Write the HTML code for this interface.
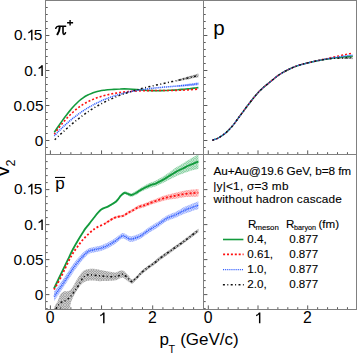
<!DOCTYPE html>
<html><head><meta charset="utf-8"><style>
html,body{margin:0;padding:0;background:#fff;}
body{width:357px;height:353px;overflow:hidden;position:relative;font-family:"Liberation Sans",sans-serif;}
</style></head><body>
<svg width="357" height="353" viewBox="0 0 357 353" style="position:absolute;left:0;top:0">
<defs>
<pattern id="hk" width="2.50" height="2.50" patternUnits="userSpaceOnUse"><circle cx="1.25" cy="1.25" r="0.85" fill="none" stroke="#000" stroke-width="0.55"/></pattern>
<pattern id="hg" width="2.50" height="2.50" patternUnits="userSpaceOnUse"><circle cx="1.25" cy="1.25" r="0.85" fill="none" stroke="#009a35" stroke-width="0.55"/></pattern>
<pattern id="hr" width="2.50" height="2.50" patternUnits="userSpaceOnUse"><circle cx="1.25" cy="1.25" r="0.85" fill="none" stroke="#ff1a1a" stroke-width="0.55"/></pattern>
<pattern id="hb" width="2.50" height="2.50" patternUnits="userSpaceOnUse"><circle cx="1.25" cy="1.25" r="0.85" fill="none" stroke="#1f4cff" stroke-width="0.55"/></pattern>
<clipPath id="cTL"><rect x="46" y="1" width="157" height="153"/></clipPath>
<clipPath id="cTR"><rect x="204" y="1" width="152" height="153"/></clipPath>
<clipPath id="cBL"><rect x="46" y="155" width="157" height="154"/></clipPath>
</defs>
<g clip-path="url(#cTL)">
<path d="M177.3,79.6 C178.0,79.4 180.1,78.9 181.5,78.5 C182.9,78.1 184.3,77.7 185.7,77.3 C187.1,76.9 188.5,76.5 189.9,76.1 C191.4,75.7 192.8,75.2 194.2,74.8 C195.6,74.4 197.7,73.8 198.4,73.5 L198.4,77.2 C197.7,77.3 195.6,77.8 194.2,78.1 C192.8,78.3 191.4,78.6 189.9,78.9 C188.5,79.2 187.1,79.4 185.7,79.7 C184.3,80.0 182.9,80.2 181.5,80.5 C180.1,80.8 178.0,81.1 177.3,81.3 Z" fill="url(#hk)" opacity="0.95"/>
<path d="M177.8,85.3 C178.5,85.2 180.6,84.9 181.9,84.7 C183.3,84.6 184.7,84.4 186.0,84.2 C187.4,84.0 188.8,83.8 190.2,83.6 C191.5,83.4 192.9,83.2 194.3,83.0 C195.7,82.7 197.7,82.4 198.4,82.3 L198.4,85.3 C197.7,85.4 195.7,85.6 194.3,85.7 C192.9,85.8 191.5,85.9 190.2,86.0 C188.8,86.1 187.4,86.2 186.0,86.2 C184.7,86.3 183.3,86.4 181.9,86.5 C180.6,86.5 178.5,86.6 177.8,86.7 Z" fill="url(#hb)" opacity="0.95"/>
<path d="M54.3,132.4 C55.0,131.4 57.0,128.3 58.4,126.3 C59.8,124.3 61.2,122.3 62.5,120.4 C63.9,118.5 65.3,116.6 66.7,114.8 C68.0,113.0 69.4,111.2 70.8,109.6 C72.1,108.0 73.5,106.4 74.9,105.0 C76.3,103.6 77.6,102.2 79.0,101.0 C80.4,99.8 81.7,98.8 83.1,97.8 C84.5,96.8 85.9,96.0 87.2,95.3 C88.6,94.5 90.0,93.9 91.4,93.4 C92.7,92.8 94.1,92.4 95.5,92.0 C96.8,91.6 98.2,91.3 99.6,91.0 C101.0,90.7 102.3,90.5 103.7,90.3 C105.1,90.1 106.5,90.0 107.8,89.8 C109.2,89.7 110.6,89.6 111.9,89.5 C113.3,89.4 114.7,89.3 116.1,89.2 C117.4,89.1 118.8,89.0 120.2,89.0 C121.5,88.9 122.9,88.9 124.3,88.9 C125.7,88.9 127.0,88.9 128.4,89.0 C129.8,89.1 131.2,89.2 132.5,89.3 C133.9,89.4 135.3,89.5 136.6,89.6 C138.0,89.7 139.4,89.9 140.8,90.0 C142.1,90.1 143.5,90.2 144.9,90.3 C146.2,90.4 147.6,90.5 149.0,90.5 C150.4,90.6 151.7,90.6 153.1,90.6 C154.5,90.7 155.9,90.7 157.2,90.7 C158.6,90.7 160.0,90.7 161.3,90.6 C162.7,90.6 164.1,90.6 165.5,90.5 C166.8,90.5 168.2,90.4 169.6,90.3 C171.0,90.2 172.3,90.2 173.7,90.1 C175.1,90.0 176.4,89.9 177.8,89.8 C179.2,89.6 180.6,89.5 181.9,89.4 C183.3,89.3 184.7,89.1 186.0,89.0 C187.4,88.9 188.8,88.7 190.2,88.6 C191.5,88.4 192.9,88.3 194.3,88.1 C195.7,87.9 197.7,87.7 198.4,87.6" fill="none" stroke="#129a3c" stroke-width="1.60"/>
<path d="M54.3,134.3 C55.0,133.3 57.0,130.3 58.4,128.4 C59.8,126.6 61.2,124.8 62.5,123.2 C63.9,121.5 65.3,119.9 66.7,118.4 C68.0,116.9 69.4,115.5 70.8,114.2 C72.1,112.9 73.5,111.6 74.9,110.5 C76.3,109.3 77.6,108.2 79.0,107.2 C80.4,106.2 81.7,105.3 83.1,104.4 C84.5,103.6 85.9,102.8 87.2,102.0 C88.6,101.3 90.0,100.6 91.4,100.0 C92.7,99.4 94.1,98.8 95.5,98.3 C96.8,97.8 98.2,97.3 99.6,96.9 C101.0,96.5 102.3,96.1 103.7,95.7 C105.1,95.3 106.5,95.0 107.8,94.7 C109.2,94.4 110.6,94.1 111.9,93.8 C113.3,93.6 114.7,93.3 116.1,93.1 C117.4,92.9 118.8,92.7 120.2,92.5 C121.5,92.3 122.9,92.1 124.3,92.0 C125.7,91.8 127.0,91.7 128.4,91.6 C129.8,91.5 131.2,91.3 132.5,91.3 C133.9,91.2 135.3,91.1 136.6,91.0 C138.0,90.9 139.4,90.9 140.8,90.8 C142.1,90.8 143.5,90.7 144.9,90.7 C146.2,90.7 147.6,90.6 149.0,90.6 C150.4,90.6 151.7,90.6 153.1,90.6 C154.5,90.6 155.9,90.5 157.2,90.5 C158.6,90.5 160.0,90.5 161.3,90.5 C162.7,90.5 164.1,90.5 165.5,90.5 C166.8,90.5 168.2,90.5 169.6,90.5 C171.0,90.4 172.3,90.4 173.7,90.4 C175.1,90.4 176.4,90.4 177.8,90.3 C179.2,90.3 180.6,90.2 181.9,90.2 C183.3,90.1 184.7,90.1 186.0,90.0 C187.4,89.9 188.8,89.8 190.2,89.7 C191.5,89.6 192.9,89.5 194.3,89.4 C195.7,89.3 197.7,89.1 198.4,89.0" fill="none" stroke="#ff1010" stroke-width="1.60" stroke-dasharray="2,2"/>
<path d="M54.3,135.9 C55.0,135.2 57.0,132.9 58.4,131.5 C59.8,130.1 61.2,128.8 62.5,127.4 C63.9,126.1 65.3,124.9 66.7,123.6 C68.0,122.4 69.4,121.2 70.8,120.1 C72.1,118.9 73.5,117.8 74.9,116.8 C76.3,115.7 77.6,114.7 79.0,113.7 C80.4,112.7 81.7,111.8 83.1,110.9 C84.5,110.0 85.9,109.1 87.2,108.3 C88.6,107.4 90.0,106.6 91.4,105.9 C92.7,105.1 94.1,104.4 95.5,103.7 C96.8,103.0 98.2,102.3 99.6,101.7 C101.0,101.0 102.3,100.4 103.7,99.8 C105.1,99.3 106.5,98.7 107.8,98.2 C109.2,97.7 110.6,97.2 111.9,96.7 C113.3,96.2 114.7,95.8 116.1,95.3 C117.4,94.9 118.8,94.5 120.2,94.1 C121.5,93.7 122.9,93.4 124.3,93.0 C125.7,92.7 127.0,92.4 128.4,92.1 C129.8,91.8 131.2,91.5 132.5,91.2 C133.9,90.9 135.3,90.7 136.6,90.5 C138.0,90.2 139.4,90.0 140.8,89.8 C142.1,89.6 143.5,89.4 144.9,89.2 C146.2,89.0 147.6,88.8 149.0,88.7 C150.4,88.5 151.7,88.3 153.1,88.2 C154.5,88.0 155.9,87.9 157.2,87.8 C158.6,87.6 160.0,87.5 161.3,87.4 C162.7,87.2 164.1,87.1 165.5,87.0 C166.8,86.9 168.2,86.8 169.6,86.7 C171.0,86.5 172.3,86.4 173.7,86.3 C175.1,86.2 176.4,86.1 177.8,86.0 C179.2,85.9 180.6,85.7 181.9,85.6 C183.3,85.5 184.7,85.4 186.0,85.2 C187.4,85.1 188.8,84.9 190.2,84.8 C191.5,84.6 192.9,84.5 194.3,84.3 C195.7,84.2 197.7,83.9 198.4,83.8" fill="none" stroke="#2f5cff" stroke-width="1.50" stroke-dasharray="1.1,0.8"/>
<path d="M54.7,139.7 C55.4,139.1 57.5,137.0 58.9,135.7 C60.3,134.4 61.7,133.1 63.2,131.8 C64.6,130.5 66.0,129.2 67.4,128.0 C68.8,126.7 70.2,125.5 71.6,124.3 C73.0,123.1 74.4,122.0 75.8,120.8 C77.2,119.7 78.7,118.6 80.1,117.5 C81.5,116.5 82.9,115.4 84.3,114.4 C85.7,113.4 87.1,112.4 88.5,111.5 C89.9,110.5 91.3,109.6 92.7,108.7 C94.1,107.9 95.6,107.0 97.0,106.2 C98.4,105.4 99.8,104.6 101.2,103.8 C102.6,103.1 104.0,102.4 105.4,101.7 C106.8,101.0 108.2,100.3 109.6,99.6 C111.1,99.0 112.5,98.4 113.9,97.8 C115.3,97.2 116.7,96.6 118.1,96.0 C119.5,95.5 120.9,95.0 122.3,94.4 C123.7,93.9 125.1,93.4 126.5,93.0 C128.0,92.5 129.4,92.1 130.8,91.6 C132.2,91.2 133.6,90.8 135.0,90.4 C136.4,90.0 137.8,89.6 139.2,89.2 C140.6,88.8 142.0,88.4 143.5,88.1 C144.9,87.7 146.3,87.4 147.7,87.0 C149.1,86.7 150.5,86.4 151.9,86.1 C153.3,85.7 154.7,85.4 156.1,85.1 C157.5,84.8 159.0,84.5 160.4,84.2 C161.8,83.9 163.2,83.6 164.6,83.3 C166.0,83.0 167.4,82.6 168.8,82.3 C170.2,82.0 171.6,81.7 173.0,81.4 C174.5,81.1 175.9,80.8 177.3,80.5 C178.7,80.1 180.1,79.8 181.5,79.5 C182.9,79.2 184.3,78.8 185.7,78.5 C187.1,78.2 188.5,77.8 189.9,77.5 C191.4,77.1 192.8,76.8 194.2,76.4 C195.6,76.1 197.7,75.5 198.4,75.4" fill="none" stroke="#111" stroke-width="1.50" stroke-dasharray="2,2.4,1,2.4"/>
</g>
<g clip-path="url(#cTR)">
<path d="M316.0,60.8 C318.6,60.4 326.6,58.9 331.9,58.2 C337.2,57.5 344.4,56.8 347.9,56.4 C351.4,56.0 351.9,56.1 352.7,56.0 L352.7,59.2 C351.9,59.2 351.4,59.0 347.9,59.0 C344.4,59.0 337.2,58.6 331.9,59.0 C326.6,59.4 318.6,60.8 316.0,61.2 Z" fill="url(#hk)" opacity="0.95"/>
<path d="M212.4,140.3 C213.5,139.8 216.9,138.8 219.2,137.5 C221.5,136.2 224.4,134.0 226.2,132.5 C228.0,131.0 228.8,129.9 230.0,128.6 C231.2,127.3 231.7,127.0 233.3,124.9 C235.0,122.8 237.2,119.6 239.9,115.9 C242.7,112.2 246.5,106.9 249.8,102.7 C253.1,98.5 256.5,94.2 259.8,90.8 C263.1,87.4 266.4,85.0 269.7,82.3 C273.0,79.6 276.3,76.7 279.6,74.5 C282.9,72.3 286.2,70.6 289.5,69.0 C292.8,67.4 295.0,66.4 299.4,65.1 C303.8,63.8 310.6,62.1 316.0,61.0 C321.4,59.9 326.6,59.0 331.9,58.3 C337.2,57.5 344.4,56.9 347.9,56.5 C351.4,56.1 351.9,56.2 352.7,56.1" fill="none" stroke="#129a3c" stroke-width="1.40"/>
<path d="M212.4,140.3 C213.5,139.8 216.9,138.8 219.2,137.5 C221.5,136.2 224.4,134.0 226.2,132.5 C228.0,131.0 228.8,129.9 230.0,128.6 C231.2,127.3 231.7,127.0 233.3,124.9 C235.0,122.8 237.2,119.6 239.9,115.9 C242.7,112.2 246.5,106.9 249.8,102.7 C253.1,98.5 256.5,94.2 259.8,90.8 C263.1,87.4 266.4,85.0 269.7,82.3 C273.0,79.6 276.3,76.7 279.6,74.5 C282.9,72.3 286.2,70.6 289.5,69.0 C292.8,67.4 295.0,66.4 299.4,65.1 C303.8,63.8 310.6,62.3 316.0,61.0 C321.4,59.7 326.6,58.6 331.9,57.4 C337.2,56.2 344.4,54.7 347.9,54.0 C351.4,53.3 351.9,53.3 352.7,53.2" fill="none" stroke="#ff1010" stroke-width="1.40" stroke-dasharray="2,2"/>
<path d="M212.4,140.3 C213.5,139.8 216.9,138.8 219.2,137.5 C221.5,136.2 224.4,134.0 226.2,132.5 C228.0,131.0 228.8,129.9 230.0,128.6 C231.2,127.3 231.7,127.0 233.3,124.9 C235.0,122.8 237.2,119.6 239.9,115.9 C242.7,112.2 246.5,106.9 249.8,102.7 C253.1,98.5 256.5,94.2 259.8,90.8 C263.1,87.4 266.4,85.0 269.7,82.3 C273.0,79.6 276.3,76.7 279.6,74.5 C282.9,72.3 286.2,70.6 289.5,69.0 C292.8,67.4 295.0,66.4 299.4,65.1 C303.8,63.8 310.6,62.2 316.0,61.0 C321.4,59.8 326.6,58.9 331.9,58.0 C337.2,57.1 344.4,56.1 347.9,55.6 C351.4,55.1 351.9,55.3 352.7,55.2" fill="none" stroke="#2f5cff" stroke-width="1.40" stroke-dasharray="1.1,0.8"/>
<path d="M212.4,140.3 C213.5,139.8 216.9,138.8 219.2,137.5 C221.5,136.2 224.4,134.0 226.2,132.5 C228.0,131.0 228.8,129.9 230.0,128.6 C231.2,127.3 231.7,127.0 233.3,124.9 C235.0,122.8 237.2,119.6 239.9,115.9 C242.7,112.2 246.5,106.9 249.8,102.7 C253.1,98.5 256.5,94.2 259.8,90.8 C263.1,87.4 266.4,85.0 269.7,82.3 C273.0,79.6 276.3,76.7 279.6,74.5 C282.9,72.3 286.2,70.6 289.5,69.0 C292.8,67.4 295.0,66.4 299.4,65.1 C303.8,63.8 310.6,62.1 316.0,61.0 C321.4,59.9 326.6,59.1 331.9,58.6 C337.2,58.1 344.4,57.9 347.9,57.7 C351.4,57.5 351.9,57.6 352.7,57.6" fill="none" stroke="#111" stroke-width="1.40" stroke-dasharray="2,2.4,1,2.4"/>
</g>
<g clip-path="url(#cBL)">
<path d="M107.8,205.8 C109.0,205.1 113.0,202.8 114.7,201.5 C116.4,200.3 117.0,199.3 118.0,198.1 C119.0,196.9 119.7,195.5 120.8,194.4 C121.9,193.3 123.2,191.8 124.4,191.4 C125.6,191.1 126.7,191.9 127.9,192.2 C129.1,192.5 130.1,193.5 131.5,193.2 C132.9,193.0 134.6,191.8 136.4,190.7 C138.2,189.6 140.2,188.0 142.1,186.9 C144.0,185.7 145.9,184.7 147.8,183.8 C149.7,182.9 152.3,181.9 153.5,181.5 C154.7,181.0 153.6,181.7 155.0,181.0 C156.4,180.3 159.6,178.7 161.9,177.3 C164.2,175.9 166.4,174.3 168.7,172.7 C171.0,171.1 173.3,169.3 175.6,167.8 C177.9,166.3 180.1,165.1 182.4,163.7 C184.7,162.2 186.8,160.8 189.3,159.4 C191.8,157.9 196.0,155.6 197.5,154.8 C199.0,153.9 198.2,154.3 198.4,154.2 L198.4,168.8 C198.2,168.8 199.0,168.6 197.5,169.0 C196.0,169.4 191.8,170.4 189.3,171.2 C186.8,172.0 184.7,172.9 182.4,173.7 C180.1,174.6 177.9,175.3 175.6,176.4 C173.3,177.4 171.0,178.7 168.7,179.9 C166.4,181.1 164.2,182.4 161.9,183.5 C159.6,184.6 156.4,186.0 155.0,186.6 C153.6,187.2 154.7,186.6 153.5,186.9 C152.3,187.3 149.7,188.1 147.8,188.8 C145.9,189.5 144.0,190.4 142.1,191.3 C140.2,192.3 138.2,193.8 136.4,194.7 C134.6,195.6 132.9,196.7 131.5,196.8 C130.1,196.9 129.1,195.8 127.9,195.4 C126.7,195.0 125.6,194.1 124.4,194.4 C123.2,194.6 121.9,196.0 120.8,197.0 C119.7,198.0 119.0,199.4 118.0,200.5 C117.0,201.6 116.4,202.5 114.7,203.7 C113.0,204.8 109.0,206.7 107.8,207.4 Z" fill="url(#hg)" opacity="0.95"/>
<path d="M104.7,222.6 C105.8,221.9 109.3,219.6 111.1,218.5 C112.9,217.4 114.1,216.9 115.6,216.3 C117.1,215.7 118.8,215.4 120.1,215.1 C121.4,214.8 122.1,215.2 123.4,214.5 C124.7,213.9 126.4,212.4 127.9,211.5 C129.4,210.6 130.7,210.1 132.4,209.1 C134.1,208.1 136.1,206.5 138.0,205.6 C139.9,204.8 141.7,204.5 143.6,203.8 C145.5,203.1 146.7,202.4 149.2,201.4 C151.7,200.4 155.5,198.8 158.5,197.7 C161.5,196.6 164.2,195.6 167.0,194.8 C169.8,193.9 172.7,193.4 175.5,192.7 C178.3,192.1 181.2,191.2 184.0,190.7 C186.8,190.2 190.0,189.9 192.4,189.6 C194.8,189.3 197.4,189.0 198.4,188.9 L198.4,196.5 C197.4,196.6 194.8,196.7 192.4,196.8 C190.0,196.9 186.8,197.0 184.0,197.3 C181.2,197.6 178.3,198.2 175.5,198.7 C172.7,199.1 169.8,199.4 167.0,200.0 C164.2,200.6 161.5,201.4 158.5,202.3 C155.5,203.2 151.7,204.5 149.2,205.4 C146.7,206.2 145.5,206.8 143.6,207.4 C141.7,208.0 139.9,208.2 138.0,209.0 C136.1,209.7 134.1,211.2 132.4,212.1 C130.7,213.0 129.4,213.5 127.9,214.3 C126.4,215.1 124.7,216.5 123.4,217.1 C122.1,217.6 121.4,217.2 120.1,217.5 C118.8,217.7 117.1,218.0 115.6,218.5 C114.1,219.0 112.9,219.6 111.1,220.7 C109.3,221.8 105.8,224.1 104.7,224.8 Z" fill="url(#hr)" opacity="0.95"/>
<path d="M54.0,291.7 C55.0,290.4 57.8,286.8 60.0,283.6 C62.2,280.5 65.1,276.3 67.4,272.8 C69.7,269.3 71.8,265.8 74.0,262.8 C76.2,259.8 78.6,257.2 80.9,254.9 C83.2,252.5 85.8,250.1 88.0,248.8 C90.2,247.5 91.8,247.6 94.0,247.0 C96.2,246.4 98.6,246.1 100.9,245.4 C103.2,244.7 105.5,243.7 107.8,242.6 C110.1,241.5 112.7,239.9 114.7,238.6 C116.7,237.3 118.4,235.6 119.7,234.7 C121.0,233.8 121.7,233.1 122.7,233.0 C123.7,232.9 124.5,233.5 125.6,234.0 C126.6,234.5 127.9,235.6 129.0,236.0 C130.1,236.4 130.8,236.4 132.0,236.2 C133.2,236.0 134.9,235.4 136.5,234.8 C138.1,234.2 139.5,233.8 141.6,232.5 C143.7,231.2 146.3,229.0 149.0,227.2 C151.7,225.4 154.9,223.7 157.9,221.8 C160.9,219.8 163.9,217.2 166.9,215.5 C169.9,213.8 172.8,213.1 175.8,211.7 C178.8,210.2 182.3,208.1 184.8,206.8 C187.3,205.6 188.9,205.0 191.0,204.2 C193.1,203.3 196.1,202.2 197.3,201.7 C198.5,201.2 198.2,201.4 198.4,201.3 L198.4,209.1 C198.2,209.2 198.5,209.1 197.3,209.5 C196.1,209.9 193.1,210.7 191.0,211.4 C188.9,212.1 187.3,212.5 184.8,213.6 C182.3,214.6 178.8,216.5 175.8,217.7 C172.8,219.0 169.9,219.5 166.9,221.1 C163.9,222.7 160.9,225.5 157.9,227.4 C154.9,229.3 151.7,231.0 149.0,232.8 C146.3,234.6 143.7,236.8 141.6,238.1 C139.5,239.4 138.1,239.8 136.5,240.4 C134.9,241.0 133.2,241.6 132.0,241.8 C130.8,242.0 130.1,242.0 129.0,241.6 C127.9,241.2 126.6,240.1 125.6,239.6 C124.5,239.1 123.7,238.5 122.7,238.6 C121.7,238.7 121.0,239.4 119.7,240.3 C118.4,241.2 116.7,242.9 114.7,244.2 C112.7,245.5 110.1,247.1 107.8,248.2 C105.5,249.3 103.2,250.3 100.9,251.0 C98.6,251.7 96.2,252.0 94.0,252.6 C91.8,253.2 90.2,252.8 88.0,254.4 C85.8,256.0 83.2,259.3 80.9,262.1 C78.6,264.9 76.2,268.0 74.0,271.2 C71.8,274.4 69.7,277.7 67.4,281.2 C65.1,284.7 62.2,289.0 60.0,292.4 C57.8,295.7 55.0,299.8 54.0,301.3 Z" fill="url(#hb)" opacity="0.95"/>
<path d="M53.5,309.5 C53.8,308.7 54.8,305.8 55.5,304.5 C56.2,303.2 56.8,303.1 57.6,301.5 C58.4,299.9 59.1,296.5 60.1,294.8 C61.1,293.1 62.6,292.0 63.9,291.4 C65.2,290.8 66.5,291.7 67.7,291.3 C69.0,290.9 70.2,290.3 71.4,288.9 C72.7,287.4 73.9,284.7 75.2,282.6 C76.5,280.5 77.7,278.2 79.0,276.3 C80.3,274.4 81.3,272.6 82.8,271.4 C84.3,270.2 85.8,269.7 87.8,269.3 C89.8,268.9 92.6,268.8 95.0,268.9 C97.4,269.0 99.5,269.7 102.0,270.2 C104.5,270.7 107.7,271.4 110.0,271.8 C112.3,272.2 114.3,272.6 116.0,272.4 C117.7,272.2 118.8,271.1 120.0,270.8 C121.2,270.5 122.0,270.2 123.0,270.6 C124.0,271.0 125.2,272.2 126.3,273.2 C127.4,274.2 129.0,276.0 129.5,276.6 L129.5,282.6 C129.0,282.2 127.4,280.8 126.3,280.0 C125.2,279.2 124.0,278.1 123.0,277.8 C122.0,277.5 121.2,277.8 120.0,278.2 C118.8,278.6 117.7,279.8 116.0,280.2 C114.3,280.6 112.7,280.6 110.0,280.8 C107.3,281.0 103.1,281.2 100.0,281.2 C96.9,281.2 94.0,280.6 91.6,280.6 C89.1,280.7 87.2,280.7 85.3,281.5 C83.4,282.3 82.0,283.6 80.3,285.6 C78.6,287.6 76.7,290.7 75.2,293.3 C73.7,295.9 72.4,298.5 71.4,301.0 C70.5,303.5 70.5,306.8 69.5,308.5 C68.5,310.2 67.3,310.6 65.1,311.0 C62.8,311.4 57.5,311.0 56.0,311.0 Z" fill="url(#hk)" opacity="0.78"/>
<path d="M129.5,277.4 C129.9,277.7 130.9,279.4 131.9,279.4 C132.9,279.4 134.2,278.1 135.3,277.2 C136.4,276.3 137.3,275.2 138.6,273.9 C139.9,272.6 140.3,271.6 143.1,269.4 C145.9,267.1 152.5,262.5 155.3,260.4 C158.1,258.3 157.1,258.8 160.0,256.6 C162.9,254.4 168.6,250.4 172.8,247.4 C177.1,244.4 181.5,241.3 185.5,238.4 C189.5,235.4 194.8,231.3 197.0,229.7 C199.2,228.1 198.2,228.8 198.4,228.6 L198.4,232.2 C198.2,232.4 199.2,231.7 197.0,233.3 C194.8,234.9 189.5,239.1 185.5,242.0 C181.5,244.9 177.1,248.0 172.8,251.0 C168.6,254.0 162.9,258.0 160.0,260.2 C157.1,262.4 158.1,261.9 155.3,264.0 C152.5,266.1 145.9,270.8 143.1,273.0 C140.3,275.2 139.9,276.2 138.6,277.5 C137.3,278.8 136.4,279.8 135.3,280.8 C134.2,281.9 132.9,283.6 131.9,283.8 C130.9,284.0 129.9,282.1 129.5,281.8 Z" fill="url(#hk)" opacity="0.95"/>
<path d="M54.0,288.5 C55.0,286.4 57.7,280.9 60.0,276.0 C62.3,271.1 65.9,263.8 68.0,259.4 C70.1,255.0 71.1,252.7 72.8,249.5 C74.5,246.3 76.2,243.4 77.9,240.5 C79.6,237.6 81.7,234.2 83.0,232.2 C84.3,230.2 84.4,229.8 85.5,228.4 C86.6,227.0 88.0,225.4 89.4,223.6 C90.8,221.8 92.0,220.0 93.9,217.7 C95.8,215.4 98.6,211.7 100.9,209.8 C103.2,208.0 105.5,207.8 107.8,206.6 C110.1,205.4 113.0,203.8 114.7,202.6 C116.4,201.4 117.0,200.5 118.0,199.3 C119.0,198.2 119.7,196.8 120.8,195.7 C121.9,194.6 123.2,193.2 124.4,192.9 C125.6,192.6 126.7,193.5 127.9,193.8 C129.1,194.2 130.1,195.2 131.5,195.0 C132.9,194.8 134.6,193.7 136.4,192.7 C138.2,191.7 140.2,190.2 142.1,189.1 C144.0,188.0 145.9,187.1 147.8,186.3 C149.7,185.5 152.3,184.6 153.5,184.2 C154.7,183.8 153.6,184.4 155.0,183.8 C156.4,183.2 159.6,181.7 161.9,180.4 C164.2,179.2 166.4,177.7 168.7,176.3 C171.0,174.9 173.3,173.4 175.6,172.1 C177.9,170.8 180.1,169.8 182.4,168.7 C184.7,167.6 186.8,166.4 189.3,165.3 C191.8,164.2 196.0,162.5 197.5,161.9 C199.0,161.3 198.2,161.6 198.4,161.5" fill="none" stroke="#129a3c" stroke-width="1.80"/>
<path d="M54.0,289.5 C55.0,287.8 57.3,284.2 60.0,279.0 C62.7,273.8 67.2,263.8 70.0,258.5 C72.8,253.2 74.4,251.0 76.9,247.5 C79.4,244.0 81.8,240.7 84.8,237.6 C87.8,234.5 91.5,231.0 94.8,228.7 C98.1,226.4 102.0,225.2 104.7,223.7 C107.4,222.2 109.3,220.6 111.1,219.6 C112.9,218.6 114.1,217.9 115.6,217.4 C117.1,216.9 118.8,216.6 120.1,216.3 C121.4,216.0 122.1,216.4 123.4,215.8 C124.7,215.2 126.4,213.8 127.9,212.9 C129.4,212.0 130.7,211.5 132.4,210.6 C134.1,209.7 136.1,208.1 138.0,207.3 C139.9,206.5 141.7,206.2 143.6,205.6 C145.5,204.9 146.7,204.3 149.2,203.4 C151.7,202.5 155.5,201.0 158.5,200.0 C161.5,199.0 164.2,198.1 167.0,197.4 C169.8,196.7 172.7,196.3 175.5,195.7 C178.3,195.1 181.2,194.4 184.0,194.0 C186.8,193.6 190.0,193.4 192.4,193.2 C194.8,193.0 197.4,192.8 198.4,192.7" fill="none" stroke="#ff1010" stroke-width="1.80" stroke-dasharray="2,2"/>
<path d="M54.0,296.5 C55.0,295.1 57.8,291.2 60.0,288.0 C62.2,284.8 65.1,280.5 67.4,277.0 C69.7,273.5 71.8,270.1 74.0,267.0 C76.2,263.9 78.6,261.1 80.9,258.5 C83.2,255.9 85.8,253.0 88.0,251.6 C90.2,250.2 91.8,250.4 94.0,249.8 C96.2,249.2 98.6,248.9 100.9,248.2 C103.2,247.5 105.5,246.5 107.8,245.4 C110.1,244.3 112.7,242.7 114.7,241.4 C116.7,240.1 118.4,238.4 119.7,237.5 C121.0,236.6 121.7,235.9 122.7,235.8 C123.7,235.7 124.5,236.3 125.6,236.8 C126.6,237.3 127.9,238.4 129.0,238.8 C130.1,239.2 130.8,239.2 132.0,239.0 C133.2,238.8 134.9,238.2 136.5,237.6 C138.1,237.0 139.5,236.6 141.6,235.3 C143.7,234.0 146.3,231.8 149.0,230.0 C151.7,228.2 154.9,226.5 157.9,224.6 C160.9,222.7 163.9,220.0 166.9,218.3 C169.9,216.7 172.8,216.0 175.8,214.7 C178.8,213.3 182.3,211.3 184.8,210.2 C187.3,209.0 188.9,208.6 191.0,207.8 C193.1,207.0 196.1,206.0 197.3,205.6 C198.5,205.2 198.2,205.3 198.4,205.2" fill="none" stroke="#2f5cff" stroke-width="1.50" stroke-dasharray="1.1,0.8"/>
<path d="M55.9,308.9 C56.3,308.2 57.5,306.1 58.5,305.0 C59.5,303.9 60.5,302.8 61.8,302.0 C63.1,301.2 65.0,301.0 66.5,300.0 C68.0,299.0 69.4,297.7 70.7,296.2 C72.0,294.7 73.3,293.0 74.6,291.2 C75.9,289.4 77.2,287.6 78.5,285.5 C79.8,283.4 81.2,280.3 82.4,278.6 C83.7,276.9 84.9,276.1 86.0,275.5 C87.1,274.9 87.3,274.7 89.2,274.7 C91.1,274.7 94.9,275.2 97.6,275.5 C100.3,275.8 102.7,276.2 105.2,276.4 C107.7,276.6 110.7,276.7 112.7,276.7 C114.7,276.7 116.0,276.5 117.3,276.2 C118.6,275.9 119.8,275.1 120.7,274.8 C121.7,274.5 122.1,274.0 123.0,274.3 C123.9,274.6 125.2,275.7 126.3,276.6 C127.4,277.5 128.6,278.8 129.5,279.6 C130.4,280.4 130.9,281.7 131.9,281.6 C132.9,281.5 134.2,280.0 135.3,279.0 C136.4,278.0 137.3,277.0 138.6,275.7 C139.9,274.4 140.3,273.4 143.1,271.2 C145.9,268.9 152.5,264.3 155.3,262.2 C158.1,260.1 157.1,260.6 160.0,258.4 C162.9,256.2 168.6,252.2 172.8,249.2 C177.1,246.2 181.5,243.1 185.5,240.2 C189.5,237.2 194.8,233.1 197.0,231.5 C199.2,229.9 198.2,230.6 198.4,230.4" fill="none" stroke="#111" stroke-width="1.50" stroke-dasharray="2,2.4,1,2.4"/>
</g>
<g stroke="#808080" stroke-width="1.00" fill="none" shape-rendering="auto">
<rect x="45.5" y="0.5" width="311.0" height="309.0"/>
<line x1="203.5" y1="0.5" x2="203.5" y2="309.5"/>
<line x1="45.5" y1="154.5" x2="356.5" y2="154.5"/>
<line x1="46.0" y1="147.50" x2="47.7" y2="147.50" stroke="#5a5a5a"/>
<line x1="46.0" y1="140.50" x2="49.4" y2="140.50" stroke="#5a5a5a"/>
<line x1="46.0" y1="133.50" x2="47.7" y2="133.50" stroke="#5a5a5a"/>
<line x1="46.0" y1="126.50" x2="47.7" y2="126.50" stroke="#5a5a5a"/>
<line x1="46.0" y1="119.50" x2="47.7" y2="119.50" stroke="#5a5a5a"/>
<line x1="46.0" y1="112.50" x2="47.7" y2="112.50" stroke="#5a5a5a"/>
<line x1="46.0" y1="105.50" x2="49.4" y2="105.50" stroke="#5a5a5a"/>
<line x1="46.0" y1="98.50" x2="47.7" y2="98.50" stroke="#5a5a5a"/>
<line x1="46.0" y1="91.50" x2="47.7" y2="91.50" stroke="#5a5a5a"/>
<line x1="46.0" y1="84.50" x2="47.7" y2="84.50" stroke="#5a5a5a"/>
<line x1="46.0" y1="77.50" x2="47.7" y2="77.50" stroke="#5a5a5a"/>
<line x1="46.0" y1="70.50" x2="49.4" y2="70.50" stroke="#5a5a5a"/>
<line x1="46.0" y1="63.50" x2="47.7" y2="63.50" stroke="#5a5a5a"/>
<line x1="46.0" y1="56.50" x2="47.7" y2="56.50" stroke="#5a5a5a"/>
<line x1="46.0" y1="49.50" x2="47.7" y2="49.50" stroke="#5a5a5a"/>
<line x1="46.0" y1="42.50" x2="47.7" y2="42.50" stroke="#5a5a5a"/>
<line x1="46.0" y1="35.50" x2="49.4" y2="35.50" stroke="#5a5a5a"/>
<line x1="46.0" y1="28.50" x2="47.7" y2="28.50" stroke="#5a5a5a"/>
<line x1="46.0" y1="21.50" x2="47.7" y2="21.50" stroke="#5a5a5a"/>
<line x1="46.0" y1="14.50" x2="47.7" y2="14.50" stroke="#5a5a5a"/>
<line x1="46.0" y1="7.50" x2="47.7" y2="7.50" stroke="#5a5a5a"/>
<line x1="46.0" y1="308.60" x2="47.7" y2="308.60" stroke="#5a5a5a"/>
<line x1="46.0" y1="301.60" x2="47.7" y2="301.60" stroke="#5a5a5a"/>
<line x1="46.0" y1="294.60" x2="49.4" y2="294.60" stroke="#5a5a5a"/>
<line x1="46.0" y1="287.60" x2="47.7" y2="287.60" stroke="#5a5a5a"/>
<line x1="46.0" y1="280.60" x2="47.7" y2="280.60" stroke="#5a5a5a"/>
<line x1="46.0" y1="273.60" x2="47.7" y2="273.60" stroke="#5a5a5a"/>
<line x1="46.0" y1="266.60" x2="47.7" y2="266.60" stroke="#5a5a5a"/>
<line x1="46.0" y1="259.60" x2="49.4" y2="259.60" stroke="#5a5a5a"/>
<line x1="46.0" y1="252.60" x2="47.7" y2="252.60" stroke="#5a5a5a"/>
<line x1="46.0" y1="245.60" x2="47.7" y2="245.60" stroke="#5a5a5a"/>
<line x1="46.0" y1="238.60" x2="47.7" y2="238.60" stroke="#5a5a5a"/>
<line x1="46.0" y1="231.60" x2="47.7" y2="231.60" stroke="#5a5a5a"/>
<line x1="46.0" y1="224.60" x2="49.4" y2="224.60" stroke="#5a5a5a"/>
<line x1="46.0" y1="217.60" x2="47.7" y2="217.60" stroke="#5a5a5a"/>
<line x1="46.0" y1="210.60" x2="47.7" y2="210.60" stroke="#5a5a5a"/>
<line x1="46.0" y1="203.60" x2="47.7" y2="203.60" stroke="#5a5a5a"/>
<line x1="46.0" y1="196.60" x2="47.7" y2="196.60" stroke="#5a5a5a"/>
<line x1="46.0" y1="189.60" x2="49.4" y2="189.60" stroke="#5a5a5a"/>
<line x1="46.0" y1="182.60" x2="47.7" y2="182.60" stroke="#5a5a5a"/>
<line x1="46.0" y1="175.60" x2="47.7" y2="175.60" stroke="#5a5a5a"/>
<line x1="46.0" y1="168.60" x2="47.7" y2="168.60" stroke="#5a5a5a"/>
<line x1="46.0" y1="161.60" x2="47.7" y2="161.60" stroke="#5a5a5a"/>
<line x1="204.0" y1="147.50" x2="205.7" y2="147.50" stroke="#5a5a5a"/>
<line x1="204.0" y1="140.50" x2="207.4" y2="140.50" stroke="#5a5a5a"/>
<line x1="204.0" y1="133.50" x2="205.7" y2="133.50" stroke="#5a5a5a"/>
<line x1="204.0" y1="126.50" x2="205.7" y2="126.50" stroke="#5a5a5a"/>
<line x1="204.0" y1="119.50" x2="205.7" y2="119.50" stroke="#5a5a5a"/>
<line x1="204.0" y1="112.50" x2="205.7" y2="112.50" stroke="#5a5a5a"/>
<line x1="204.0" y1="105.50" x2="207.4" y2="105.50" stroke="#5a5a5a"/>
<line x1="204.0" y1="98.50" x2="205.7" y2="98.50" stroke="#5a5a5a"/>
<line x1="204.0" y1="91.50" x2="205.7" y2="91.50" stroke="#5a5a5a"/>
<line x1="204.0" y1="84.50" x2="205.7" y2="84.50" stroke="#5a5a5a"/>
<line x1="204.0" y1="77.50" x2="205.7" y2="77.50" stroke="#5a5a5a"/>
<line x1="204.0" y1="70.50" x2="207.4" y2="70.50" stroke="#5a5a5a"/>
<line x1="204.0" y1="63.50" x2="205.7" y2="63.50" stroke="#5a5a5a"/>
<line x1="204.0" y1="56.50" x2="205.7" y2="56.50" stroke="#5a5a5a"/>
<line x1="204.0" y1="49.50" x2="205.7" y2="49.50" stroke="#5a5a5a"/>
<line x1="204.0" y1="42.50" x2="205.7" y2="42.50" stroke="#5a5a5a"/>
<line x1="204.0" y1="35.50" x2="207.4" y2="35.50" stroke="#5a5a5a"/>
<line x1="204.0" y1="28.50" x2="205.7" y2="28.50" stroke="#5a5a5a"/>
<line x1="204.0" y1="21.50" x2="205.7" y2="21.50" stroke="#5a5a5a"/>
<line x1="204.0" y1="14.50" x2="205.7" y2="14.50" stroke="#5a5a5a"/>
<line x1="204.0" y1="7.50" x2="205.7" y2="7.50" stroke="#5a5a5a"/>
<line x1="204.0" y1="308.60" x2="205.7" y2="308.60" stroke="#5a5a5a"/>
<line x1="204.0" y1="301.60" x2="205.7" y2="301.60" stroke="#5a5a5a"/>
<line x1="204.0" y1="294.60" x2="207.4" y2="294.60" stroke="#5a5a5a"/>
<line x1="204.0" y1="287.60" x2="205.7" y2="287.60" stroke="#5a5a5a"/>
<line x1="204.0" y1="280.60" x2="205.7" y2="280.60" stroke="#5a5a5a"/>
<line x1="204.0" y1="273.60" x2="205.7" y2="273.60" stroke="#5a5a5a"/>
<line x1="204.0" y1="266.60" x2="205.7" y2="266.60" stroke="#5a5a5a"/>
<line x1="204.0" y1="259.60" x2="207.4" y2="259.60" stroke="#5a5a5a"/>
<line x1="204.0" y1="252.60" x2="205.7" y2="252.60" stroke="#5a5a5a"/>
<line x1="204.0" y1="245.60" x2="205.7" y2="245.60" stroke="#5a5a5a"/>
<line x1="204.0" y1="238.60" x2="205.7" y2="238.60" stroke="#5a5a5a"/>
<line x1="204.0" y1="231.60" x2="205.7" y2="231.60" stroke="#5a5a5a"/>
<line x1="204.0" y1="224.60" x2="207.4" y2="224.60" stroke="#5a5a5a"/>
<line x1="204.0" y1="217.60" x2="205.7" y2="217.60" stroke="#5a5a5a"/>
<line x1="204.0" y1="210.60" x2="205.7" y2="210.60" stroke="#5a5a5a"/>
<line x1="204.0" y1="203.60" x2="205.7" y2="203.60" stroke="#5a5a5a"/>
<line x1="204.0" y1="196.60" x2="205.7" y2="196.60" stroke="#5a5a5a"/>
<line x1="204.0" y1="189.60" x2="207.4" y2="189.60" stroke="#5a5a5a"/>
<line x1="204.0" y1="182.60" x2="205.7" y2="182.60" stroke="#5a5a5a"/>
<line x1="204.0" y1="175.60" x2="205.7" y2="175.60" stroke="#5a5a5a"/>
<line x1="204.0" y1="168.60" x2="205.7" y2="168.60" stroke="#5a5a5a"/>
<line x1="204.0" y1="161.60" x2="205.7" y2="161.60" stroke="#5a5a5a"/>
<line x1="50.40" y1="154.0" x2="50.40" y2="150.4" stroke="#5a5a5a"/>
<line x1="60.63" y1="154.0" x2="60.63" y2="152.2" stroke="#5a5a5a"/>
<line x1="70.86" y1="154.0" x2="70.86" y2="152.2" stroke="#5a5a5a"/>
<line x1="81.09" y1="154.0" x2="81.09" y2="152.2" stroke="#5a5a5a"/>
<line x1="91.32" y1="154.0" x2="91.32" y2="152.2" stroke="#5a5a5a"/>
<line x1="101.55" y1="154.0" x2="101.55" y2="150.4" stroke="#5a5a5a"/>
<line x1="111.78" y1="154.0" x2="111.78" y2="152.2" stroke="#5a5a5a"/>
<line x1="122.01" y1="154.0" x2="122.01" y2="152.2" stroke="#5a5a5a"/>
<line x1="132.24" y1="154.0" x2="132.24" y2="152.2" stroke="#5a5a5a"/>
<line x1="142.47" y1="154.0" x2="142.47" y2="152.2" stroke="#5a5a5a"/>
<line x1="152.70" y1="154.0" x2="152.70" y2="150.4" stroke="#5a5a5a"/>
<line x1="162.93" y1="154.0" x2="162.93" y2="152.2" stroke="#5a5a5a"/>
<line x1="173.16" y1="154.0" x2="173.16" y2="152.2" stroke="#5a5a5a"/>
<line x1="183.39" y1="154.0" x2="183.39" y2="152.2" stroke="#5a5a5a"/>
<line x1="193.62" y1="154.0" x2="193.62" y2="152.2" stroke="#5a5a5a"/>
<line x1="50.40" y1="309.0" x2="50.40" y2="305.4" stroke="#5a5a5a"/>
<line x1="60.63" y1="309.0" x2="60.63" y2="307.2" stroke="#5a5a5a"/>
<line x1="70.86" y1="309.0" x2="70.86" y2="307.2" stroke="#5a5a5a"/>
<line x1="81.09" y1="309.0" x2="81.09" y2="307.2" stroke="#5a5a5a"/>
<line x1="91.32" y1="309.0" x2="91.32" y2="307.2" stroke="#5a5a5a"/>
<line x1="101.55" y1="309.0" x2="101.55" y2="305.4" stroke="#5a5a5a"/>
<line x1="111.78" y1="309.0" x2="111.78" y2="307.2" stroke="#5a5a5a"/>
<line x1="122.01" y1="309.0" x2="122.01" y2="307.2" stroke="#5a5a5a"/>
<line x1="132.24" y1="309.0" x2="132.24" y2="307.2" stroke="#5a5a5a"/>
<line x1="142.47" y1="309.0" x2="142.47" y2="307.2" stroke="#5a5a5a"/>
<line x1="152.70" y1="309.0" x2="152.70" y2="305.4" stroke="#5a5a5a"/>
<line x1="162.93" y1="309.0" x2="162.93" y2="307.2" stroke="#5a5a5a"/>
<line x1="173.16" y1="309.0" x2="173.16" y2="307.2" stroke="#5a5a5a"/>
<line x1="183.39" y1="309.0" x2="183.39" y2="307.2" stroke="#5a5a5a"/>
<line x1="193.62" y1="309.0" x2="193.62" y2="307.2" stroke="#5a5a5a"/>
<line x1="208.30" y1="154.0" x2="208.30" y2="150.4" stroke="#5a5a5a"/>
<line x1="218.24" y1="154.0" x2="218.24" y2="152.2" stroke="#5a5a5a"/>
<line x1="228.18" y1="154.0" x2="228.18" y2="152.2" stroke="#5a5a5a"/>
<line x1="238.12" y1="154.0" x2="238.12" y2="152.2" stroke="#5a5a5a"/>
<line x1="248.06" y1="154.0" x2="248.06" y2="152.2" stroke="#5a5a5a"/>
<line x1="258.00" y1="154.0" x2="258.00" y2="150.4" stroke="#5a5a5a"/>
<line x1="267.94" y1="154.0" x2="267.94" y2="152.2" stroke="#5a5a5a"/>
<line x1="277.88" y1="154.0" x2="277.88" y2="152.2" stroke="#5a5a5a"/>
<line x1="287.82" y1="154.0" x2="287.82" y2="152.2" stroke="#5a5a5a"/>
<line x1="297.76" y1="154.0" x2="297.76" y2="152.2" stroke="#5a5a5a"/>
<line x1="307.70" y1="154.0" x2="307.70" y2="150.4" stroke="#5a5a5a"/>
<line x1="317.64" y1="154.0" x2="317.64" y2="152.2" stroke="#5a5a5a"/>
<line x1="327.58" y1="154.0" x2="327.58" y2="152.2" stroke="#5a5a5a"/>
<line x1="337.52" y1="154.0" x2="337.52" y2="152.2" stroke="#5a5a5a"/>
<line x1="347.46" y1="154.0" x2="347.46" y2="152.2" stroke="#5a5a5a"/>
<line x1="208.30" y1="309.0" x2="208.30" y2="305.4" stroke="#5a5a5a"/>
<line x1="218.24" y1="309.0" x2="218.24" y2="307.2" stroke="#5a5a5a"/>
<line x1="228.18" y1="309.0" x2="228.18" y2="307.2" stroke="#5a5a5a"/>
<line x1="238.12" y1="309.0" x2="238.12" y2="307.2" stroke="#5a5a5a"/>
<line x1="248.06" y1="309.0" x2="248.06" y2="307.2" stroke="#5a5a5a"/>
<line x1="258.00" y1="309.0" x2="258.00" y2="305.4" stroke="#5a5a5a"/>
<line x1="267.94" y1="309.0" x2="267.94" y2="307.2" stroke="#5a5a5a"/>
<line x1="277.88" y1="309.0" x2="277.88" y2="307.2" stroke="#5a5a5a"/>
<line x1="287.82" y1="309.0" x2="287.82" y2="307.2" stroke="#5a5a5a"/>
<line x1="297.76" y1="309.0" x2="297.76" y2="307.2" stroke="#5a5a5a"/>
<line x1="307.70" y1="309.0" x2="307.70" y2="305.4" stroke="#5a5a5a"/>
<line x1="317.64" y1="309.0" x2="317.64" y2="307.2" stroke="#5a5a5a"/>
<line x1="327.58" y1="309.0" x2="327.58" y2="307.2" stroke="#5a5a5a"/>
<line x1="337.52" y1="309.0" x2="337.52" y2="307.2" stroke="#5a5a5a"/>
<line x1="347.46" y1="309.0" x2="347.46" y2="307.2" stroke="#5a5a5a"/>
</g>
<g font-family="Liberation Sans, sans-serif" fill="#000">
<text x="34.64" y="145.80" font-size="15.40">0</text>
<text x="13.48" y="110.70" font-size="15.40">0</text>
<text x="22.04" y="110.70" font-size="15.40">.</text>
<text x="26.32" y="110.70" font-size="15.40">0</text>
<text x="34.88" y="110.70" font-size="15.40">5</text>
<text x="24.21" y="75.90" font-size="15.40">0</text>
<text x="32.77" y="75.90" font-size="15.40">.</text>
<path d="M42.80,75.90 L41.38,75.90 L41.38,67.43 C40.61,68.05 39.83,68.66 38.60,69.05 L38.60,67.66 C40.44,67.05 40.77,66.04 41.46,65.30 L42.80,65.30 Z" fill="#000"/>
<text x="13.91" y="40.30" font-size="15.40">0</text>
<text x="22.47" y="40.30" font-size="15.40">.</text>
<path d="M32.50,40.30 L31.08,40.30 L31.08,31.83 C30.31,32.45 29.53,33.06 28.29,33.45 L28.29,32.06 C30.14,31.45 30.47,30.44 31.16,29.70 L32.50,29.70 Z" fill="#000"/>
<text x="33.68" y="40.30" font-size="15.40">5</text>
<text x="34.64" y="299.90" font-size="15.40">0</text>
<text x="13.48" y="264.80" font-size="15.40">0</text>
<text x="22.04" y="264.80" font-size="15.40">.</text>
<text x="26.32" y="264.80" font-size="15.40">0</text>
<text x="34.88" y="264.80" font-size="15.40">5</text>
<text x="24.21" y="230.00" font-size="15.40">0</text>
<text x="32.77" y="230.00" font-size="15.40">.</text>
<path d="M42.80,230.00 L41.38,230.00 L41.38,221.53 C40.61,222.15 39.83,222.76 38.60,223.15 L38.60,221.76 C40.44,221.15 40.77,220.14 41.46,219.40 L42.80,219.40 Z" fill="#000"/>
<text x="13.91" y="194.40" font-size="15.40">0</text>
<text x="22.47" y="194.40" font-size="15.40">.</text>
<path d="M32.50,194.40 L31.08,194.40 L31.08,185.93 C30.31,186.55 29.53,187.16 28.29,187.55 L28.29,186.16 C30.14,185.55 30.47,184.54 31.16,183.80 L32.50,183.80 Z" fill="#000"/>
<text x="33.68" y="194.40" font-size="15.40">5</text>
<text x="45.81" y="323.30" font-size="15.80">0</text>
<path d="M104.55,323.30 L103.10,323.30 L103.10,314.61 C102.31,315.24 101.50,315.87 100.24,316.27 L100.24,314.85 C102.13,314.22 102.46,313.19 103.18,312.43 L104.55,312.43 Z" fill="#000"/>
<text x="148.11" y="323.30" font-size="15.80">2</text>
<text x="203.71" y="323.30" font-size="15.80">0</text>
<path d="M260.40,323.30 L258.95,323.30 L258.95,314.61 C258.16,315.24 257.35,315.87 256.09,316.27 L256.09,314.85 C257.98,314.22 258.31,313.19 259.03,312.43 L260.40,312.43 Z" fill="#000"/>
<text x="303.11" y="323.30" font-size="15.80">2</text>
</g>
<g fill="none" stroke="#000" stroke-linecap="round">
<path d="M55.8,28.2 Q56.6,26.2 58.3,26.2 L65.6,26.2" stroke-width="1.6"/>
<path d="M59.8,26.8 C59.6,30 58.7,32.6 57.4,34.3" stroke-width="2.0"/>
<path d="M63.0,26.8 L63.0,32.6 C63.0,34.9 64.7,34.9 65.5,32.8" stroke-width="1.6"/>
<path d="M67.1,22.7 L73.1,22.7 M70.1,19.9 L70.1,25.5" stroke-width="1.4" stroke-linecap="butt"/>
</g>
<g font-family="Liberation Sans, sans-serif" fill="#000">
<text x="213.3" y="34.6" font-size="20.5">p</text>
<text x="55.2" y="189.3" font-size="17">p</text>
<rect x="55" y="176.9" width="10.1" height="1.1" fill="#000"/>
<text transform="translate(9.2,176.4) rotate(-90)" font-size="21">v</text>
<text transform="translate(14.8,166.6) rotate(-90)" font-size="12.6">2</text>
<text x="159.5" y="344.6" font-size="17">p</text>
<text x="168.6" y="353.0" font-size="10.8">T</text>
<text x="180.2" y="344.6" font-size="17">(GeV/c)</text>
</g>
<g font-family="Liberation Sans, sans-serif" fill="#000" stroke="#000" stroke-width="0.12">
<text x="213.5" y="175.0" font-size="11.8" textLength="137.7" lengthAdjust="spacing">Au+Au@19.6 GeV, b=8 fm</text>
<text x="213.2" y="189.5" font-size="11.8" textLength="75.3" lengthAdjust="spacing">|y|&lt;1, σ=3 mb</text>
<text x="213.6" y="202.6" font-size="11.8" textLength="128.2" lengthAdjust="spacing">without hadron cascade</text>
<text x="248.0" y="227.8" font-size="11.6">R</text><text x="255.4" y="230.3" font-size="7.8">meson</text>
<text x="286.0" y="227.8" font-size="11.6">R</text><text x="294.0" y="230.3" font-size="7.2">baryon</text>
<text x="318.4" y="227.8" font-size="11.6">(fm)</text>
<text x="247.3" y="242.5" font-size="11.6">0.4,</text>
<text x="289.2" y="242.5" font-size="11.6">0.877</text>
<text x="247.3" y="257.5" font-size="11.6">0.61,</text>
<text x="289.2" y="257.5" font-size="11.6">0.877</text>
<text x="247.3" y="272.5" font-size="11.6">1.0,</text>
<text x="289.2" y="272.5" font-size="11.6">0.877</text>
<text x="247.3" y="287.5" font-size="11.6">2.0,</text>
<text x="289.2" y="287.5" font-size="11.6">0.877</text>
</g>
<line x1="223" y1="239.5" x2="243.4" y2="239.5" stroke="#129a3c" stroke-width="1.6"/>
<line x1="223" y1="254.4" x2="243.6" y2="254.4" stroke="#ff1010" stroke-width="1.6" stroke-dasharray="2,1.9" stroke-dashoffset="-0.1"/>
<line x1="223" y1="269.6" x2="243.6" y2="269.6" stroke="#2f5cff" stroke-width="1.4" stroke-dasharray="1,0.9"/>
<line x1="222.9" y1="284.7" x2="243.8" y2="284.7" stroke="#111" stroke-width="1.5" stroke-dasharray="2,2.4,1,2.4"/>
</svg>
</body></html>
